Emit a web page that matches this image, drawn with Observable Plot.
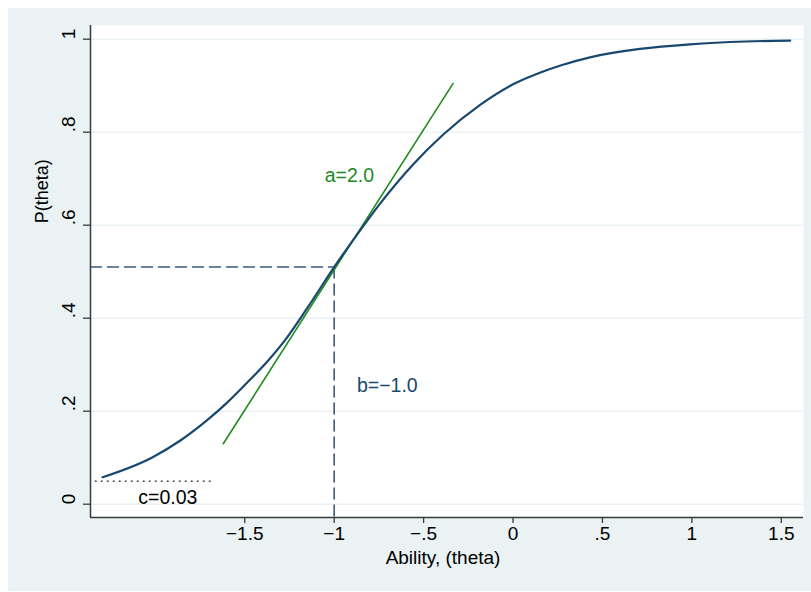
<!DOCTYPE html>
<html>
<head>
<meta charset="utf-8">
<script src="https://cdn.jsdelivr.net/npm/d3@7"></script>
<script src="https://cdn.jsdelivr.net/npm/@observablehq/plot@0.6"></script>
<style>
  html, body { margin: 0; padding: 0; background: #ffffff; }
  #chart { position: absolute; left: 8px; top: 8px; }
</style>
</head>
<body>
<div id="chart"></div>
<script>
// Item characteristic curve
const theta = [-2.295, -2.02, -1.86, -1.70, -1.60, -1.49, -1.38, -1.28, -1.15, -1.00, -0.89, -0.74, -0.56, -0.39, -0.18, 0.00, 0.15, 0.27, 0.43, 0.71, 0.99, 1.30, 1.55];
const prob  = [0.058, 0.100, 0.137, 0.184, 0.218, 0.260, 0.304, 0.350, 0.422, 0.510, 0.570, 0.648, 0.730, 0.795, 0.860, 0.903, 0.928, 0.944, 0.961, 0.979, 0.989, 0.995, 0.997];

// Tangent (slope) line at b
const tangentTheta = [-1.62, -0.335];
const tangentP = [0.13, 0.905];

// Difficulty reference
const bValue = -1.0;
const pAtB = 0.51;

// Guessing reference (dotted)
const cLineTheta = [-2.336, -1.693];
const cLineP = 0.0495;

// Ticks
const xTicks = [-1.5, -1, -0.5, 0, 0.5, 1, 1.5];
const xTickLabels = ["\u22121.5", "\u22121", "\u2212.5", "0", ".5", "1", "1.5"];
const yTicks = [0, 0.2, 0.4, 0.6, 0.8, 1];
const yTickLabels = ["0", ".2", ".4", ".6", ".8", "1"];

// Annotations
const annText = ["a=2.0", "b=\u22121.0", "c=0.03"];
const annTheta = [-0.915, -0.703, -1.93];
const annP = [0.706, 0.255, 0.0133];
const annColor = ["#1e8c1e", "#1a476f", "#000000"];

const xTitle = "Ability, (theta)";
const yTitle = "P(theta)";
const yTitlePos = 0.604;

const xDomain = [-2.3624, 1.6242];
const yDomain = [-0.0286, 1.0294];

const curve = theta.map((t, i) => ({t, p: prob[i]}));
const tangent = tangentTheta.map((t, i) => ({t, p: tangentP[i]}));
const hRef = [{t: xDomain[0], p: pAtB}, {t: bValue, p: pAtB}];
const vRef = [{t: bValue, p: pAtB}, {t: bValue, p: yDomain[0]}];
const cRef = cLineTheta.map(t => ({t, p: cLineP}));
const ann = annText.map((s, i) => ({s, t: annTheta[i], p: annP[i], c: annColor[i]}));

const axisColor = "#3a3a3a";
const font = "'Liberation Sans', Arial, Helvetica, sans-serif";

const chart = Plot.plot({
  width: 803,
  height: 583,
  marginLeft: 82,
  marginRight: 8,
  marginTop: 17,
  marginBottom: 74,
  x: {domain: xDomain},
  y: {domain: yDomain},
  style: {background: "#eaf2f3", fontFamily: font, overflow: "visible"},
  marks: [
    Plot.frame({fill: "#ffffff", stroke: null}),
    Plot.ruleY(yTicks, {stroke: "#eaf2f3", strokeWidth: 1.5}),
    Plot.axisX({ticks: xTicks, tickSize: 6, tickFormat: () => "", label: null, stroke: axisColor, strokeWidth: 1.3}),
    Plot.axisY({ticks: yTicks, tickSize: 7, tickFormat: () => "", label: null, stroke: axisColor, strokeWidth: 1.3}),
    Plot.ruleX([xDomain[0]], {stroke: axisColor, strokeWidth: 1.5}),
    Plot.ruleY([yDomain[0]], {stroke: axisColor, strokeWidth: 1.5}),
    Plot.text(yTicks, {y: d => d, frameAnchor: "left", dx: -22, rotate: -90, text: (d, i) => yTickLabels[i], fontSize: 19, fill: "#000"}),
    Plot.text(xTicks, {x: d => d, frameAnchor: "bottom", dy: 22, text: (d, i) => xTickLabels[i], fontSize: 19, fill: "#000"}),
    Plot.text([xTitle], {frameAnchor: "bottom", dx: -4, dy: 46, text: d => d, fontSize: 19, fill: "#000"}),
    Plot.text([yTitlePos], {y: d => d, frameAnchor: "left", dx: -48, rotate: -90, text: () => yTitle, fontSize: 18, fill: "#000"}),
    Plot.line(hRef, {x: "t", y: "p", stroke: "#3d5a7a", strokeWidth: 1.6, strokeDasharray: "11,6"}),
    Plot.line(vRef, {x: "t", y: "p", stroke: "#3d5a7a", strokeWidth: 1.6, strokeDasharray: "11,6"}),
    Plot.line(cRef, {x: "t", y: "p", stroke: "#222", strokeWidth: 1.2, strokeDasharray: "1,5"}),
    Plot.line(tangent, {x: "t", y: "p", stroke: "#1e8c1e", strokeWidth: 1.6}),
    Plot.line(curve, {x: "t", y: "p", stroke: "#1a476f", strokeWidth: 2.2, curve: "monotone-x"}),
    Plot.text(ann, {x: "t", y: "p", text: "s", fill: "c", fontSize: 19.5})
  ]
});
document.getElementById("chart").appendChild(chart);
</script>
</body>
</html>
